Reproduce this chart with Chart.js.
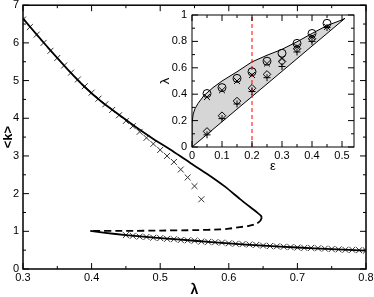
<!DOCTYPE html>
<html><head><meta charset="utf-8">
<script src="https://cdn.jsdelivr.net/npm/chart.js@4"></script>
<style>
html,body{margin:0;padding:0;background:#fff;}
#wrap{position:relative;width:374px;height:297px;overflow:hidden;}
#main{position:absolute;left:0;top:0;}
#inset{position:absolute;left:150px;top:0;}
</style></head><body>
<div id="wrap"><canvas id="main" width="374" height="297"></canvas><canvas id="inset" width="224" height="175"></canvas></div>
<script>
// ---------- main chart data ----------
const upperLam = [0.300,0.320,0.342,0.365,0.390,0.415,0.441,0.465,0.490,0.519,0.545,0.568,0.595,0.616,0.632,0.642,0.647,0.648];
const upperK   = [6.65,6.22,5.76,5.30,4.83,4.43,4.08,3.76,3.45,3.12,2.80,2.53,2.18,1.86,1.63,1.49,1.41,1.36];
const dashLam  = [0.648,0.646,0.640,0.628,0.616,0.600,0.587,0.550,0.500,0.450,0.400];
const dashK    = [1.36,1.28,1.20,1.14,1.11,1.07,1.05,1.03,1.02,1.01,1.01];
const lowerLam = [0.398,0.420,0.450,0.500,0.550,0.600,0.650,0.700,0.750,0.800];
const lowerK   = [1.01,0.96,0.90,0.82,0.75,0.68,0.62,0.57,0.53,0.49];
const crossUpLam = [0.30,0.31,0.32,0.33,0.34,0.35,0.36,0.37,0.38,0.39,0.40,0.41,0.42,0.43,0.44,0.45,0.46,0.47,0.48,0.49,0.50,0.51,0.52,0.53,0.54,0.55,0.56];
const crossUpK   = [6.62,6.42,6.22,6.00,5.79,5.60,5.40,5.21,5.03,4.85,4.68,4.52,4.37,4.22,4.08,3.93,3.79,3.64,3.48,3.32,3.16,3.00,2.84,2.64,2.43,2.20,1.85];
const crossLoLam = [0.45,0.46,0.47,0.48,0.49,0.50,0.51,0.52,0.53,0.54,0.55,0.56,0.57,0.58,0.59,0.60,0.61,0.62,0.63,0.64,0.65,0.66,0.67,0.68,0.69,0.70,0.71,0.72,0.73,0.74,0.75,0.76,0.77,0.78,0.79,0.80];
const crossLoK   = [0.90,0.88,0.86,0.85,0.83,0.82,0.80,0.79,0.77,0.76,0.75,0.73,0.72,0.71,0.70,0.68,0.67,0.66,0.65,0.64,0.62,0.61,0.60,0.59,0.58,0.57,0.56,0.56,0.55,0.54,0.53,0.52,0.51,0.51,0.50,0.49];
const mainXTicks = [0.3,0.4,0.5,0.6,0.7,0.8];
const mainXLabels = ['0.3','0.4','0.5','0.6','0.7','0.8'];
const mainXMinor = [0.35,0.45,0.55,0.65,0.75];
const mainYTicks = [0,1,2,3,4,5,6,7];
const mainYLabels = ['0','1','2','3','4','5','6','7'];
const mainYMinor = [0.5,1.5,2.5,3.5,4.5,5.5,6.5];

// ---------- inset data ----------
const boundEps = [0,0,0.004,0.01,0.02,0.04,0.07,0.10,0.15,0.20,0.25,0.30,0.35,0.40,0.45,0.50,0.51,0];
const boundLam = [0,0.18,0.25,0.29,0.33,0.39,0.45,0.50,0.57,0.645,0.695,0.74,0.797,0.86,0.92,0.963,0.975,0];
const markEps = [0.05,0.10,0.15,0.20,0.25,0.30,0.35,0.40,0.45];
const circLam = [0.405,0.45,0.52,0.57,0.65,0.71,0.785,0.86,0.937];
const xLam    = [0.378,0.43,0.50,0.545,0.632,0.67,0.76,0.835,0.91];
const diaEps  = [0.05,0.10,0.15,0.20,0.25,0.30,0.35,0.40];
const diaLam  = [0.118,0.237,0.348,0.445,0.55,0.648,0.745,0.82];
const plusLam = [0.092,0.215,0.326,0.42,0.525,0.61,0.72,0.80,0.905];
const redEps = [0.2,0.2];
const redLam = [0,1];
const insetXTicks = [0,0.1,0.2,0.3,0.4,0.5];
const insetXLabels = ['0','0.1','0.2','0.3','0.4','0.5'];
const insetXMinor = [0.05,0.15,0.25,0.35,0.45];
const insetYTicks = [0,0.2,0.4,0.6,0.8,1];
const insetYLabels = ['0','0.2','0.4','0.6','0.8','1'];
const insetYMinor = [0.1,0.3,0.5,0.7,0.9];

const pts = (xs, ys) => xs.map((x, i) => ({x, y: ys[i]}));
const FONT = 'Liberation Sans, Arial, Helvetica, sans-serif';

const framePlugin = {
  id: 'frame',
  beforeDraw(chart, args, o) {
    if (o.bg) { const a = chart.chartArea; chart.ctx.save(); chart.ctx.fillStyle = o.bg; chart.ctx.fillRect(a.left, a.top, a.right - a.left, a.bottom - a.top); chart.ctx.restore(); }
  },
  afterDatasetsDraw(chart, args, o) {
    const {ctx, chartArea: a, scales: {x, y}} = chart;
    ctx.save();
    ctx.strokeStyle = '#000';
    const line = (x1, y1, x2, y2) => { ctx.beginPath(); ctx.moveTo(x1, y1); ctx.lineTo(x2, y2); ctx.stroke(); };
    const tx = (vals, len) => vals.forEach(v => { const p = x.getPixelForValue(v); line(p, a.bottom, p, a.bottom - len); line(p, a.top, p, a.top + len); });
    const ty = (vals, len) => vals.forEach(v => { const p = y.getPixelForValue(v); line(a.left, p, a.left + len, p); line(a.right, p, a.right - len, p); });
    ctx.lineWidth = 1;
    tx(o.xMajor, o.maj); tx(o.xMinor, o.min); ty(o.yMajor, o.maj); ty(o.yMinor, o.min);
    ctx.lineWidth = o.lw;
    ctx.strokeRect(a.left, a.top, a.right - a.left, a.bottom - a.top);
    ctx.restore();
  }
};

function axisOpts(min, max, tickVals, labels, pad, title, titleFont, titlePad, fitFn) {
  return {
    type: 'linear', min, max,
    afterBuildTicks: s => { s.ticks = tickVals.map(v => ({value: v})); },
    ticks: {callback: (v, i) => labels[i], font: {family: FONT, size: 11}, color: '#000', padding: pad, maxRotation: 0, autoSkip: false},
    grid: {display: false, drawTicks: false},
    border: {display: false},
    title: {display: true, text: title, color: '#000', font: titleFont, padding: titlePad},
    afterFit: s => { fitFn(s); s.paddingLeft = 0; s.paddingRight = 0; s.paddingTop = 0; s.paddingBottom = 0; }
  };
}

const lineDS = (data, extra) => Object.assign({data, showLine: true, pointRadius: 0, borderColor: '#000', borderWidth: 1.8, tension: 0.2, fill: false}, extra);
const markDS = (data, style, r, color, extra) => Object.assign({data, showLine: false, pointStyle: style, pointRadius: r, borderColor: color, backgroundColor: 'rgba(0,0,0,0)', pointBorderWidth: 1, borderWidth: 1}, extra);

new Chart(document.getElementById('main'), {
  type: 'scatter',
  data: {datasets: [
    lineDS(pts(upperLam, upperK)),
    lineDS(pts(dashLam, dashK), {borderDash: [7, 4]}),
    lineDS(pts(lowerLam, lowerK)),
    markDS(pts(crossUpLam, crossUpK), 'crossRot', 4.2, '#333'),
    markDS(pts(crossLoLam, crossLoK), 'crossRot', 4.2, '#333'),
  ]},
  options: {
    responsive: false, animation: false, devicePixelRatio: 1,
    layout: {padding: {left: 0, top: 5, right: 8, bottom: 0}},
    plugins: {legend: {display: false}, tooltip: {enabled: false},
      frame: {xMajor: mainXTicks, xMinor: mainXMinor, yMajor: mainYTicks, yMinor: mainYMinor, maj: 6, min: 3, lw: 1.5}},
    scales: {
      x: axisOpts(0.3, 0.8, mainXTicks, mainXLabels, 2, 'λ', {family: FONT, size: 14, weight: 'bold', lineHeight: 1}, {top: 0, bottom: 0}, s => { s.height = 28; }),
      y: axisOpts(0, 7, mainYTicks, mainYLabels, 4, '<k>', {family: FONT, size: 13, weight: 'bold', lineHeight: 1}, {top: 1.5, bottom: 0}, s => { s.width = 23; })
    }
  },
  plugins: [framePlugin]
});

new Chart(document.getElementById('inset'), {
  type: 'scatter',
  data: {datasets: [
    markDS(pts(markEps, circLam), 'circle', 4, '#000', {order: 0}),
    markDS(pts(markEps, xLam), 'crossRot', 4.2, '#000', {order: 1}),
    markDS(pts(diaEps, diaLam), 'rectRot', 3.8, '#000', {order: 2}),
    markDS(pts(markEps, plusLam), 'cross', 3.5, '#000', {order: 3}),
    lineDS(pts(redEps, redLam), {borderColor: '#ff0000', borderWidth: 1, borderDash: [4, 3], tension: 0, order: 4}),
    lineDS(pts(boundEps, boundLam), {borderWidth: 1, tension: 0, fill: 'shape', backgroundColor: '#d6d6d6', order: 5}),
  ]},
  options: {
    responsive: false, animation: false, devicePixelRatio: 1,
    layout: {padding: {left: 0, top: 15, right: 20, bottom: 0}},
    plugins: {legend: {display: false}, tooltip: {enabled: false},
      frame: {xMajor: insetXTicks, xMinor: insetXMinor, yMajor: insetYTicks, yMinor: insetYMinor, maj: 6, min: 3, lw: 1, bg: '#fff'}},
    scales: {
      x: axisOpts(0, 0.54, insetXTicks, insetXLabels, 2, 'ε', {family: FONT, size: 13, lineHeight: 1}, {top: 0, bottom: 2}, s => { s.height = 28; }),
      y: axisOpts(0, 1, insetYTicks, insetYLabels, 5, 'λ', {family: FONT, size: 13, lineHeight: 1}, {top: 8.5, bottom: 0}, s => { s.width = 42; })
    }
  },
  plugins: [framePlugin]
});
</script>
</body></html>
